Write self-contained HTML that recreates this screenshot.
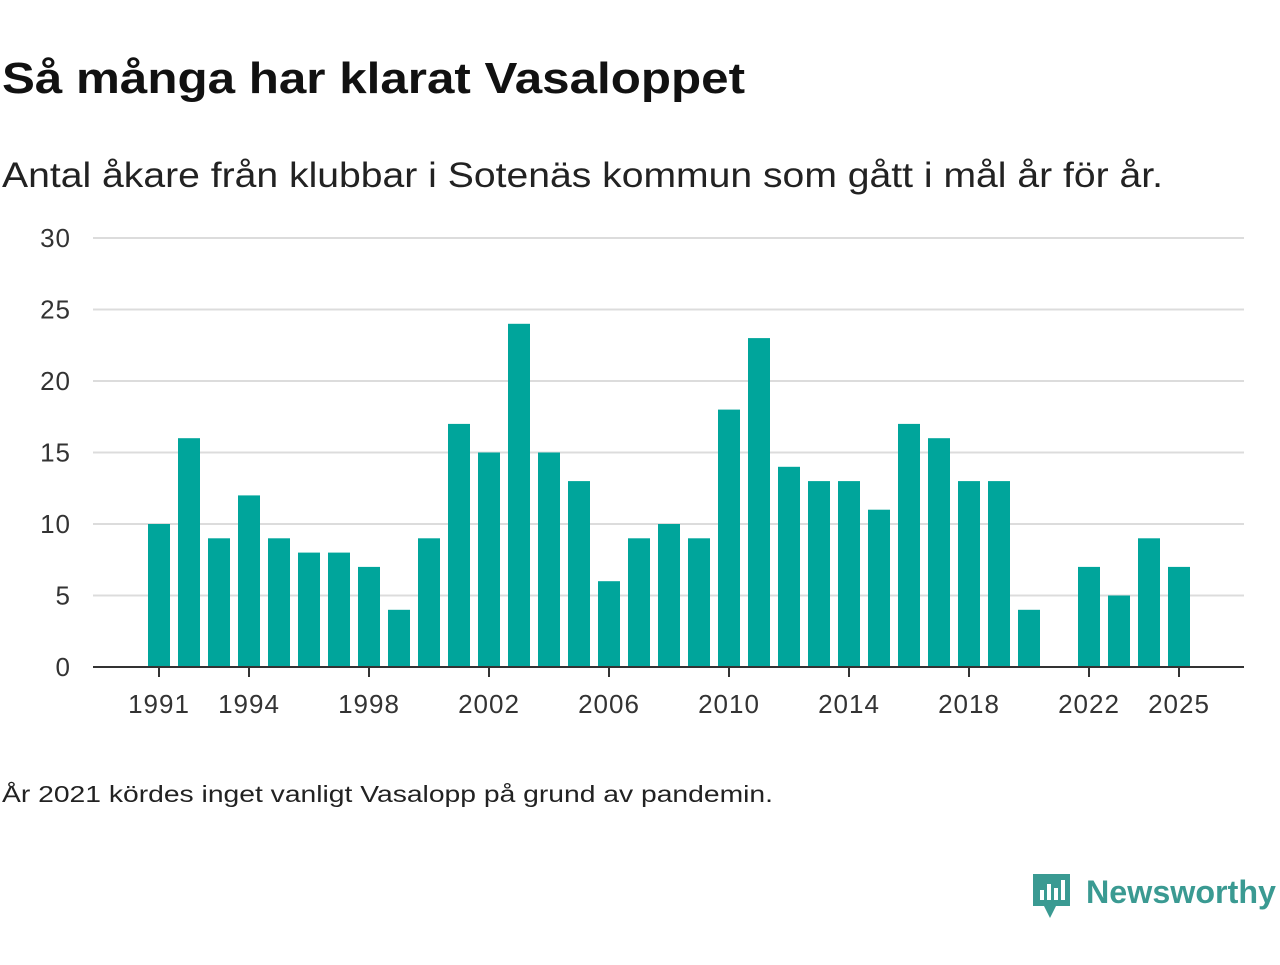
<!DOCTYPE html>
<html><head><meta charset="utf-8"><style>
body{margin:0;width:1280px;height:960px;background:#fff;font-family:"Liberation Sans",sans-serif;color:#222;overflow:hidden}
</style></head><body>
<svg width="1280" height="960">
<text x="2" y="93" font-size="44" font-weight="bold" fill="#111" textLength="743" lengthAdjust="spacingAndGlyphs">Så många har klarat Vasaloppet</text>
<text x="2" y="187" font-size="35" fill="#222" textLength="1161" lengthAdjust="spacingAndGlyphs">Antal åkare från klubbar i Sotenäs kommun som gått i mål år för år.</text>
<g id="grid"></g><g id="bars"></g><g id="xaxis"></g>
<text x="2" y="802" font-size="23" fill="#222" textLength="771" lengthAdjust="spacingAndGlyphs">År 2021 kördes inget vanligt Vasalopp på grund av pandemin.</text>
<g>
<path d="M1033 874 h37 v32 h-14 l-6 12 l-6 -12 h-11 z" fill="#3a9a92"/>
<rect x="1040" y="890" width="4" height="10" fill="#fff"/><rect x="1047" y="884" width="4" height="16" fill="#fff"/><rect x="1054" y="888" width="4" height="12" fill="#fff"/><rect x="1061" y="880" width="4" height="20" fill="#fff"/>
<text x="1086" y="903" font-size="32" font-weight="bold" fill="#3a9a92" textLength="190" lengthAdjust="spacingAndGlyphs">Newsworthy</text>
</g>
</svg>
<script>
const years=[1991,1992,1993,1994,1995,1996,1997,1998,1999,2000,2001,2002,2003,2004,2005,2006,2007,2008,2009,2010,2011,2012,2013,2014,2015,2016,2017,2018,2019,2020,2021,2022,2023,2024,2025];
const values=[10,16,9,12,9,8,8,7,4,9,17,15,24,15,13,6,9,10,9,18,23,14,13,13,11,17,16,13,13,4,null,7,5,9,7];
const yTicks=[0,5,10,15,20,25,30];
const xTicks=[1991,1994,1998,2002,2006,2010,2014,2018,2022,2025];
const NS="http://www.w3.org/2000/svg";
const y=v=>667-v*(429/30);
const x=yr=>159+(yr-1991)*30;
function mk(t,a,p){const e=document.createElementNS(NS,t);for(const k in a)e.setAttribute(k,a[k]);p.appendChild(e);return e;}
const g=document.getElementById('grid'),b=document.getElementById('bars'),xa=document.getElementById('xaxis');
yTicks.forEach(v=>{
 if(v>0){const l=mk('line',{x1:93,x2:1244,y1:y(v),y2:y(v),stroke:'#dcdcdc','stroke-width':2},g);
 
 }
 const t=mk('text',{x:71,y:y(v)+9,'font-size':26,'text-anchor':'end',fill:'#333','letter-spacing':1},g);t.textContent=v;
 
 
});
years.forEach((yr,i)=>{const v=values[i];if(v==null)return;
 const r=mk('rect',{x:x(yr)-11,y:y(v),width:22,height:667-y(v),fill:'#00a59b'},b);
 
 
});
const ax=mk('line',{x1:93,x2:1244,y1:667,y2:667,stroke:'#333','stroke-width':2},xa);


xTicks.forEach(yr=>{
 mk('line',{x1:x(yr),x2:x(yr),y1:667,y2:677,stroke:'#333','stroke-width':2},xa);
 const t=mk('text',{x:x(yr),y:713,'font-size':26,'text-anchor':'middle',fill:'#333','letter-spacing':1},xa);t.textContent=yr;
 
 
});
</script>
</body></html>
